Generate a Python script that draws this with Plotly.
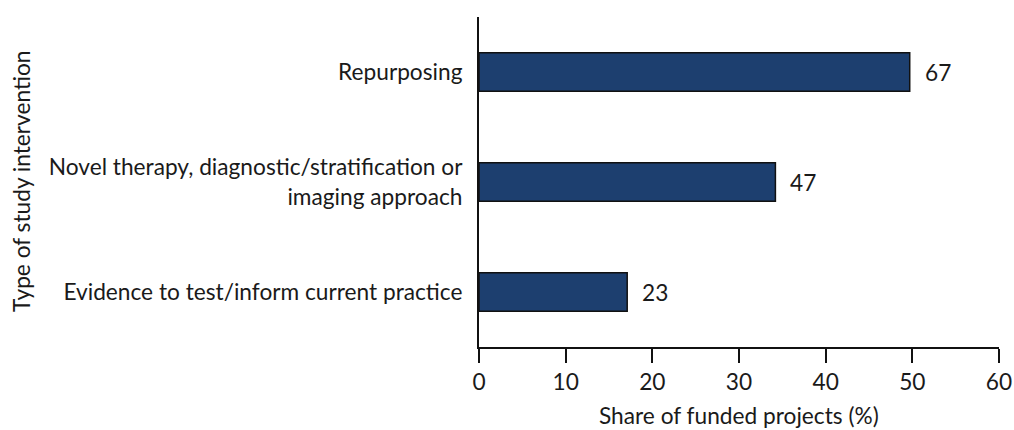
import plotly.graph_objects as go

categories = ["Evidence to test/inform current practice",
              "Novel therapy, diagnostic/stratification or<br>imaging approach",
              "Repurposing"]
shares = [17.1, 34.2, 49.7]
counts = [23, 47, 67]
x_ticks = [0, 10, 20, 30, 40, 50, 60]

FONT = "Lato"
FS = 22.7
TXT = "#1a1a1a"
L, R, T, B = 479, 15, 17, 83

fig = go.Figure()
fig.add_trace(go.Bar(
    y=categories, x=shares, orientation="h", width=0.35,
    marker=dict(color="#1d3f6f", line=dict(color="#111111", width=1.5)),
    showlegend=False, hoverinfo="skip",
))
for c, v, n in zip(categories, shares, counts):
    fig.add_annotation(x=v, y=c, text=str(n), showarrow=False, xanchor="left",
                       xshift=13, font=dict(family=FONT, size=FS, color=TXT))

# axis titles
fig.add_annotation(x=0.5, y=0, xref="paper", yref="paper", text="Share of funded projects (%)",
                   showarrow=False, xanchor="center", yanchor="middle", yshift=-68,
                   font=dict(family=FONT, size=FS, color=TXT))
fig.add_annotation(x=0, y=0.5, xref="paper", yref="paper", text="Type of study intervention",
                   showarrow=False, textangle=-90, xanchor="center", yanchor="middle",
                   xshift=-(L - 21), font=dict(family=FONT, size=FS, color=TXT))

fig.update_layout(
    width=1014, height=430,
    margin=dict(l=L, r=R, t=T, b=B),
    plot_bgcolor="white", paper_bgcolor="white",
    font=dict(family=FONT, size=FS, color=TXT),
)
fig.update_xaxes(range=[0, 60], tickvals=x_ticks, showline=True, linecolor="#111111",
                 linewidth=2, ticks="outside", ticklen=14, tickwidth=2, tickcolor="#111111",
                 showgrid=False, zeroline=False, automargin=False,
                 tickfont=dict(size=FS, color=TXT))
fig.update_yaxes(range=[-0.5, 2.5], showline=True, linecolor="#111111", linewidth=2,
                 ticks="", showgrid=False, zeroline=False, ticklabelstandoff=10,
                 automargin=False, tickfont=dict(size=FS, color=TXT))
fig.write_html("out.html", config={"displayModeBar": False},
               post_script="document.body.style.margin='0';document.body.style.overflow='hidden';")
